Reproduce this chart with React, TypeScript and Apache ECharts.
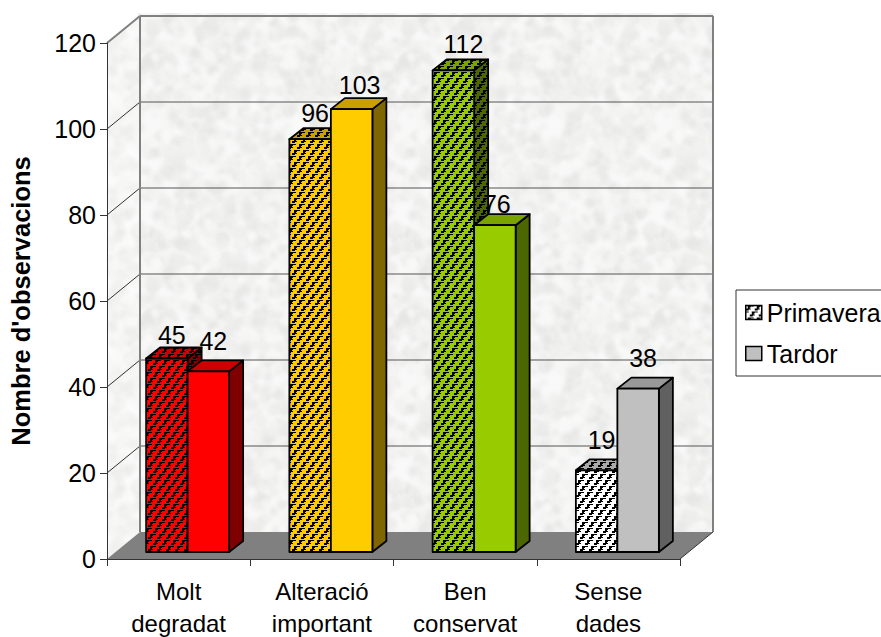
import React, { useEffect, useRef } from "react";
import * as echarts from "echarts";

const categories = ["Molt\ndegradat", "Alteració\nimportant", "Ben\nconservat", "Sense\ndades"];
const primavera = [45, 96, 112, 19];
const tardor = [42, 103, 76, 38];
const yTicks = [0, 20, 40, 60, 80, 100, 120];
const frontColors = ["#FF0000", "#FFCC00", "#99CC00", "#C0C0C0"];
const topColors = ["#CC0000", "#CC9F00", "#7AA300", "#999999"];
const sideColors = ["#7F0000", "#7F6600", "#4C6600", "#606060"];
const hatchFront = ["#FF0000", "#FFCC00", "#99CC00", "#FFFFFF"];
const hatchTop = ["#CC0000", "#CC9F00", "#7AA300", "#AAAAAA"];
const hatchSide = ["#7F0000", "#7F6600", "#4C6600", "#606060"];

const FONT = "'Liberation Sans', Arial, sans-serif";
const WALL = { dx: 33, dy: -27 };
const BAR = { shiftX: 9, shiftY: -7, width: 41.5, dx: 14, dy: -11 };
const LABEL_NUDGE = [
  [[0, 4], [0, 2], [5, 2], [0, -2]],
  [[0, -2], [3, 4], [-3, 7], [0, -3]],
];
const TILE = [
  "..######.",
  "..###....",
  "..##.....",
  "#####....",
  "###......",
  ".........",
];

function hatch(bg: string) {
  const c = document.createElement("canvas");
  c.width = 9;
  c.height = 12;
  const g = c.getContext("2d")!;
  g.fillStyle = bg;
  g.fillRect(0, 0, 9, 12);
  g.fillStyle = "#000";
  TILE.forEach((row, y) => {
    for (let x = 0; x < 9; x++) {
      if (row[x] === "#") {
        g.fillRect(x, y, 1, 1);
        g.fillRect((x + 4) % 9, y + 6, 1, 1);
      }
    }
  });
  return { image: c.toDataURL(), repeat: "repeat", imageWidth: 9, imageHeight: 12 };
}

function marble(lo: number, hi: number) {
  const size = 256;
  const c = document.createElement("canvas");
  c.width = size;
  c.height = size;
  const g = c.getContext("2d")!;
  let seed = 12345;
  const rnd = () => {
    seed = (seed * 1103515245 + 12345) & 0x7fffffff;
    return seed / 0x7fffffff;
  };
  g.fillStyle = `rgb(${hi},${hi},${hi})`;
  g.fillRect(0, 0, size, size);
  g.filter = "blur(2px)";
  for (let i = 0; i < 1600; i++) {
    const v = Math.round(lo + (hi - lo) * rnd());
    g.fillStyle = `rgb(${v},${v},${v - 1})`;
    const x = rnd() * size;
    const y = rnd() * size;
    const r = 2 + rnd() * 4;
    for (const ox of [-size, 0, size]) {
      for (const oy of [-size, 0, size]) {
        g.beginPath();
        g.arc(x + ox, y + oy, r, 0, Math.PI * 2);
        g.fill();
      }
    }
  }
  return { image: c.toDataURL(), repeat: "repeat", imageWidth: size, imageHeight: size };
}

export default function App() {
  const ref = useRef<HTMLDivElement>(null);
  useEffect(() => {
    document.body.style.margin = "0";
    const chart = echarts.init(ref.current!, undefined, { renderer: "svg" });
    const backTex = marble(230, 249);
    const sideTex = marble(236, 251);
    const patFront = hatchFront.map(hatch);
    const patTop = hatchTop.map(hatch);
    const patSide = hatchSide.map(hatch);
    const legendPat = hatch("#FFFFFF");

    const poly = (points: number[][], style: any) => ({ type: "polygon", shape: { points }, style });

    const renderWalls = (_: any, api: any) => {
      const band = api.size([1, 0])[0];
      const x0 = api.coord([0, 0])[0] - band / 2;
      const x1 = api.coord([categories.length - 1, 0])[0] + band / 2;
      const yB = api.coord([0, 0])[1];
      const yT = api.coord([0, yTicks[yTicks.length - 1]])[1];
      const { dx, dy } = WALL;
      const children: any[] = [
        { type: "rect", shape: { x: x0 + dx - 2, y: yT + dy - 3, width: x1 - x0 + 3, height: yB - yT + 3 }, style: { fill: backTex } },
        poly([[x0, yT], [x0 + dx, yT + dy], [x0 + dx, yB + dy], [x0, yB]], { fill: sideTex }),
        poly([[x0, yB], [x1, yB], [x1 + dx, yB + dy], [x0 + dx, yB + dy]], { fill: "#808080" }),
      ];
      yTicks.forEach((t) => {
        const y = api.coord([0, t])[1];
        const isTop = t === yTicks[yTicks.length - 1];
        if (t > 0) {
          children.push({ type: "line", shape: { x1: x0, y1: y, x2: x0 + dx, y2: y + dy }, style: { stroke: isTop ? "#808080" : "#333", lineWidth: isTop ? 2 : 1 } });
          children.push({ type: "line", shape: { x1: x0 + dx, y1: y + dy, x2: x1 + dx, y2: y + dy }, style: { stroke: isTop ? "#808080" : "#555", lineWidth: isTop ? 2 : 1 } });
        }
      });
      children.push({ type: "line", shape: { x1: x0 + dx, y1: yT + dy, x2: x0 + dx, y2: yB + dy }, style: { stroke: "#808080", lineWidth: 2 } });
      children.push({ type: "line", shape: { x1: x1 + dx, y1: yT + dy, x2: x1 + dx, y2: yB + dy }, style: { stroke: "#808080", lineWidth: 2 } });
      children.push({ type: "line", shape: { x1: x1, y1: yB, x2: x1 + dx, y2: yB + dy }, style: { stroke: "#333", lineWidth: 1 } });
      return { type: "group", children };
    };

    const renderBar = (which: 0 | 1, hatched: boolean) => (_: any, api: any) => {
      const i = api.value(0);
      const v = api.value(1);
      const [cx, yTop] = api.coord([i, v]);
      const yBase = api.coord([i, 0])[1] + BAR.shiftY;
      const top = yTop + BAR.shiftY;
      const l = cx + BAR.shiftX - BAR.width + which * BAR.width;
      const r = l + BAR.width;
      const { dx, dy } = BAR;
      const stroke = { stroke: "#000", lineWidth: 1.8, lineJoin: "round" };
      const [nx, ny] = LABEL_NUDGE[which][i];
      return {
        type: "group",
        children: [
          poly([[r, yBase], [r + dx, yBase + dy], [r + dx, top + dy], [r, top]], { fill: hatched ? patSide[i] : sideColors[i], ...stroke }),
          poly([[l, top], [l + dx, top + dy], [r + dx, top + dy], [r, top]], { fill: hatched ? patTop[i] : topColors[i], ...stroke }),
          { type: "rect", shape: { x: l, y: top, width: BAR.width, height: yBase - top }, style: { fill: hatched ? patFront[i] : frontColors[i], ...stroke } },
          {
            type: "text",
            x: (l + r) / 2 + 5 + nx,
            y: top - 28 + ny,
            style: { text: String(v), fontSize: 25, fontFamily: FONT, fill: "#000", align: "center", verticalAlign: "middle" },
          },
        ],
      };
    };

    chart.setOption({
      animation: false,
      backgroundColor: "#fff",
      textStyle: { fontFamily: FONT },
      grid: { left: 107, right: 201, top: 43, bottom: 78, containLabel: false, outerBoundsMode: "none" },
      legend: {
        show: true,
        orient: "vertical",
        left: 736,
        top: 290,
        selectedMode: false,
        padding: [10, 30, 10, 9],
        itemGap: 16,
        itemWidth: 16,
        itemHeight: 14,
        borderColor: "#333",
        borderWidth: 1,
        backgroundColor: "#fff",
        textStyle: { fontSize: 25, fontFamily: FONT, color: "#000", padding: [0, 0, 0, 0] },
        data: [
          { name: "Primavera", icon: "rect", itemStyle: { color: legendPat, borderColor: "#000", borderWidth: 1.5 } },
          { name: "Tardor", icon: "rect", itemStyle: { color: "#C0C0C0", borderColor: "#000", borderWidth: 1.5 } },
        ],
      },
      xAxis: {
        type: "category",
        data: categories,
        z: 5,
        axisLine: { lineStyle: { color: "#333", width: 1 } },
        axisTick: { show: true, length: 7, alignWithLabel: false, lineStyle: { color: "#333" } },
        axisLabel: { fontSize: 24, fontFamily: FONT, color: "#000", lineHeight: 32, margin: 16, interval: 0 },
      },
      yAxis: {
        type: "value",
        min: 0,
        max: 120,
        interval: 20,
        z: 5,
        name: "Nombre d'observacions",
        nameLocation: "middle",
        nameGap: 73,
        nameRotate: 90,
        nameTextStyle: { fontSize: 25.5, fontWeight: "bold", fontFamily: FONT, color: "#000" },
        axisLine: { show: true, lineStyle: { color: "#333", width: 1 } },
        axisTick: { show: true, length: 7, lineStyle: { color: "#333" } },
        axisLabel: { fontSize: 25, fontFamily: FONT, color: "#000", margin: 11 },
        splitLine: { show: false },
      },
      series: [
        { type: "custom", name: "walls", silent: true, clip: false, renderItem: renderWalls, data: [[0, 0]], z: 1 },
        { type: "custom", name: "Primavera", clip: false, renderItem: renderBar(0, true), data: primavera.map((v, i) => [i, v]), encode: { x: 0, y: 1 }, z: 2 },
        { type: "custom", name: "Tardor", clip: false, renderItem: renderBar(1, false), data: tardor.map((v, i) => [i, v]), encode: { x: 0, y: 1 }, z: 3 },
      ],
    });
    return () => chart.dispose();
  }, []);
  return <div ref={ref} style={{ width: 881, height: 637 }} />;
}
